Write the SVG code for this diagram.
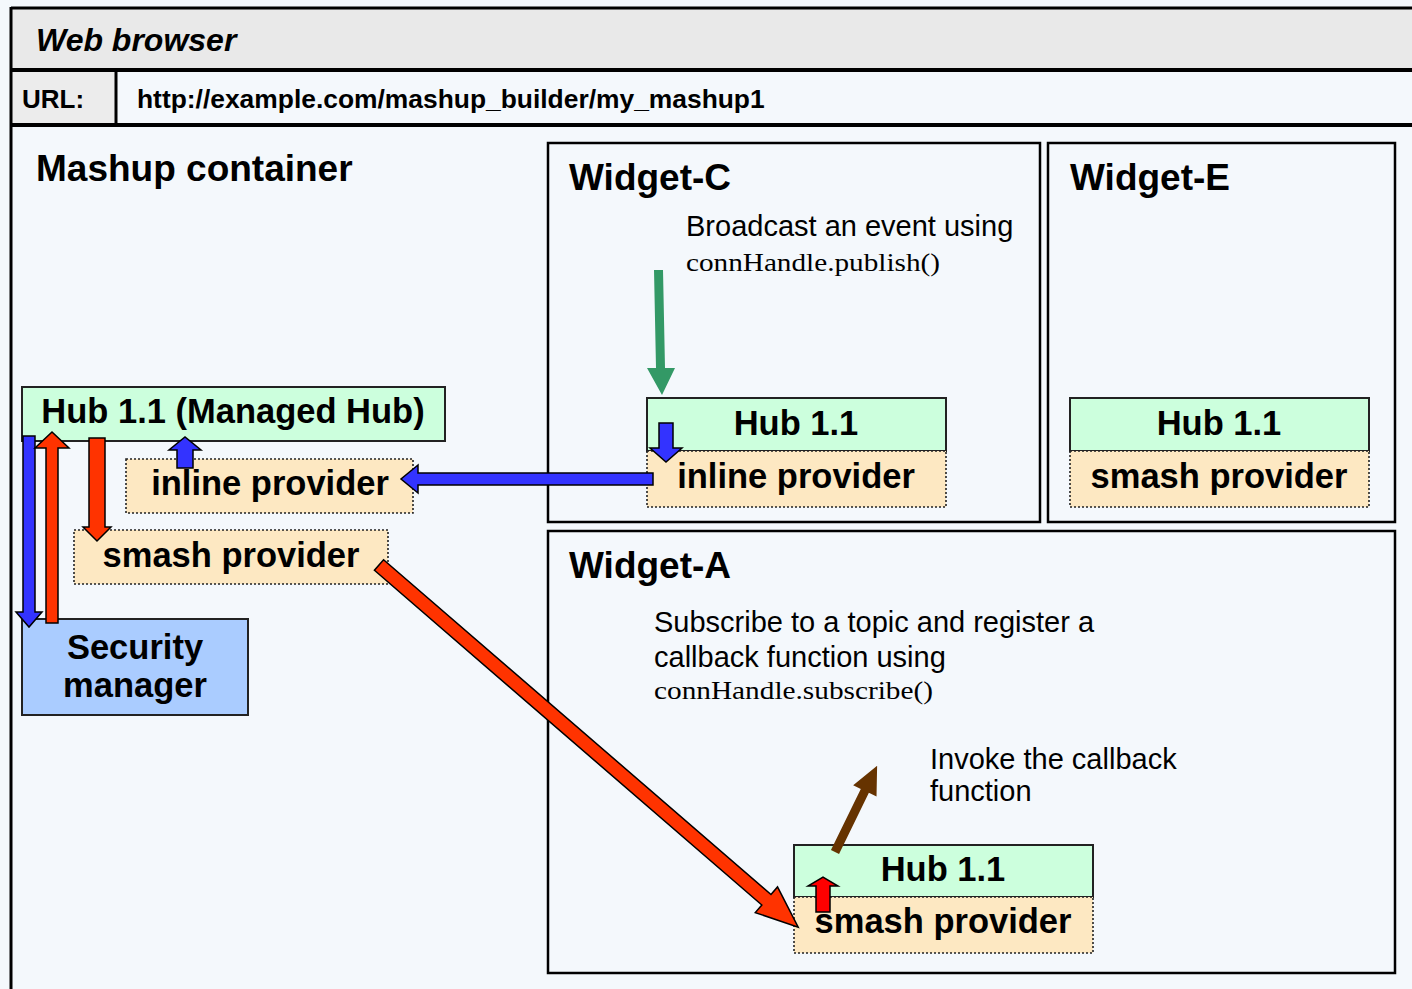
<svg xmlns="http://www.w3.org/2000/svg" width="1412" height="989" viewBox="0 0 1412 989">
<style>
text{font-family:"Liberation Sans",Arial,sans-serif;fill:#000}
.b{font-weight:bold}
.t{font-size:37px;font-weight:bold}
.h{font-size:34.5px;font-weight:bold;text-anchor:middle}
.r{font-size:29px}
.m{font-family:"Liberation Serif","Times New Roman",serif;font-size:26px}
.box{fill:#f4f8fc;stroke:#000;stroke-width:2.5}
.hub{fill:#ccffdd;stroke:#222;stroke-width:2}
.prov{fill:#fde8c2;stroke:#222;stroke-width:1.6;stroke-dasharray:2,2}
.ab{fill:#3333ff;stroke:#000;stroke-width:1.5}
.ar{fill:#ff3300;stroke:#000;stroke-width:1.5}
</style>
<rect x="0" y="0" width="1412" height="989" fill="#f4f8fc"/>
<g id="browser">
<rect x="11" y="8" width="1420" height="62" fill="#e9e9e9"/>
<rect x="11" y="70" width="105" height="55" fill="#ececec"/>
<line x1="11" y1="8" x2="1412" y2="8" stroke="#000" stroke-width="3"/>
<line x1="11" y1="70" x2="1412" y2="70" stroke="#000" stroke-width="4"/>
<line x1="11" y1="125" x2="1412" y2="125" stroke="#000" stroke-width="4"/>
<line x1="116" y1="70" x2="116" y2="125" stroke="#000" stroke-width="3"/>
<line x1="11" y1="7" x2="11" y2="989" stroke="#000" stroke-width="3"/>
<text x="36" y="51" class="b" font-style="italic" font-size="32">Web browser</text>
<text x="22" y="108" class="b" font-size="26">URL:</text>
<text x="137" y="108" class="b" font-size="26.4">http://example.com/mashup_builder/my_mashup1</text>
<text x="36" y="181" class="t">Mashup container</text>
</g>
<g id="widget-c">
<rect x="548" y="143" width="492" height="379" class="box"/>
<text x="569" y="190" class="t">Widget-C</text>
<text x="686" y="236" class="r">Broadcast an event using</text>
<text x="686" y="271" class="m" textLength="254" lengthAdjust="spacingAndGlyphs">connHandle.publish()</text>
</g>
<g id="widget-e">
<rect x="1048" y="143" width="347" height="379" class="box"/>
<text x="1070" y="190" class="t">Widget-E</text>
</g>
<g id="widget-a">
<rect x="548" y="531" width="847" height="442" class="box"/>
<text x="569" y="578" class="t">Widget-A</text>
<text x="654" y="632" class="r">Subscribe to a topic and register a</text>
<text x="654" y="667" class="r">callback function using</text>
<text x="654" y="699" class="m" textLength="279" lengthAdjust="spacingAndGlyphs">connHandle.subscribe()</text>
<text x="930" y="769" class="r">Invoke the callback</text>
<text x="930" y="801" class="r">function</text>
</g>
<g id="hub-c">
<rect x="647" y="398" width="299" height="53" class="hub"/>
<rect x="647" y="451" width="299" height="56" class="prov"/>
<text x="796" y="435" class="h">Hub 1.1</text>
<text x="796" y="488" class="h">inline provider</text>
</g>
<g id="hub-e">
<rect x="1070" y="398" width="299" height="53" class="hub"/>
<rect x="1070" y="451" width="299" height="56" class="prov"/>
<text x="1219" y="435" class="h">Hub 1.1</text>
<text x="1219" y="488" class="h">smash provider</text>
</g>
<g id="hub-a">
<rect x="794" y="845" width="299" height="52" class="hub"/>
<rect x="794" y="897" width="299" height="56" class="prov"/>
<text x="943" y="881" class="h">Hub 1.1</text>
<text x="943" y="933" class="h">smash provider</text>
</g>
<g id="managed-hub">
<rect x="22" y="387" width="423" height="54" class="hub"/>
<text x="233" y="423" class="h" font-size="35.5">Hub 1.1 (Managed Hub)</text>
</g>
<g id="inline-provider">
<rect x="126" y="459" width="287" height="54" class="prov"/>
<text x="270" y="495" class="h">inline provider</text>
</g>
<g id="smash-provider">
<rect x="74" y="530" width="314" height="54" class="prov"/>
<text x="231" y="567" class="h">smash provider</text>
</g>
<g id="security-manager">
<rect x="22" y="619" width="226" height="96" fill="#aaccff" stroke="#222" stroke-width="2"/>
<text x="135" y="659" class="h">Security</text>
<text x="135" y="697" class="h">manager</text>
</g>
<g id="connectors">
<polygon class="ab" points="23,436 35,436 35,612 42,612 29,627 16,612 23,612"/>
<polygon class="ar" points="46,623 58,623 58,448 69,448 52,432 35,448 46,448"/>
<polygon class="ar" points="89,438 105,438 105,527 111,527 97,541 83,527 89,527"/>
<polygon class="ab" points="177,468 193,468 193,450 201,450 185,437 169,450 177,450"/>
<polygon class="ab" points="653,473 653,485 418,485 418,493 401,479 418,465 418,473"/>
<polygon class="ab" points="659,423 673,423 673,448 682,448 666,462 650,448 659,448"/>
<polygon fill="#339966" points="654,270 663,270 665,368 675,368 662,395 647,368 656,368"/>
<polygon class="ar" transform="translate(379,565) rotate(40.83)" points="0,-7 512,-7 512,-17 554,0 512,17 512,7 0,7"/>
<polygon fill="#ff0000" stroke="#000" stroke-width="1.5" points="816,912 830,912 830,886 838,886 823,877 808,886 816,886"/>
<polygon fill="#663300" transform="translate(835,852) rotate(-63.97)" points="0,-4.5 68,-4.5 68,-13 96,0 68,13 68,4.5 0,4.5"/>
</g>
</svg>
